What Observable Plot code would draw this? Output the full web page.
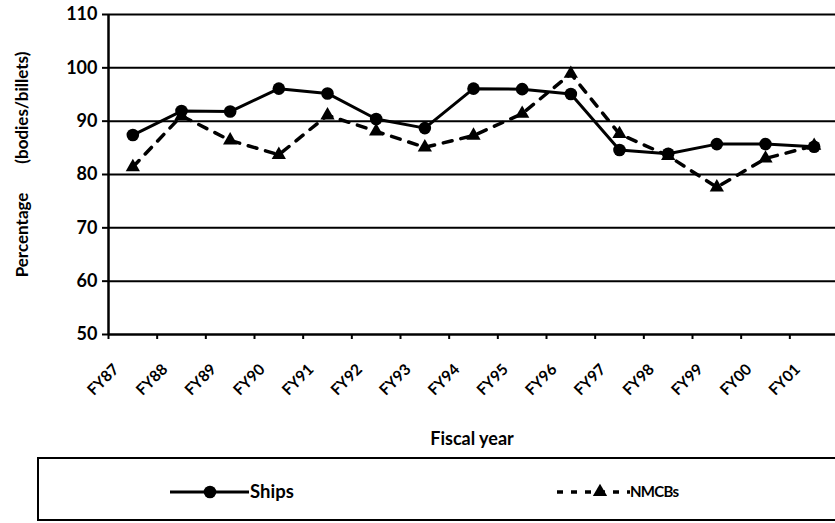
<!DOCTYPE html>
<html>
<head>
<meta charset="utf-8">
<script src="https://cdn.jsdelivr.net/npm/d3@7"></script>
<script src="https://cdn.jsdelivr.net/npm/@observablehq/plot@0.6"></script>
<style>
  html, body { margin: 0; padding: 0; background: #fff; }
  #wrap { position: relative; width: 835px; height: 523px; overflow: hidden; }
  #legend { position: absolute; left: 0; top: 456px; }
  svg { font-family: Lato, "Open Sans", sans-serif; }
</style>
</head>
<body>
<div id="wrap">
  <div id="chart"></div>
  <div id="legend"></div>
</div>
<script>
const years = ["FY87","FY88","FY89","FY90","FY91","FY92","FY93","FY94","FY95","FY96","FY97","FY98","FY99","FY00","FY01"];
const ships = [87.4, 91.9, 91.8, 96.1, 95.2, 90.4, 88.7, 96.1, 96.0, 95.1, 84.6, 83.9, 85.7, 85.7, 85.2];
const nmcbs = [81.4, 91.0, 86.4, 83.7, 91.1, 88.1, 85.1, 87.3, 91.4, 98.9, 87.6, 83.5, 77.6, 83.0, 85.4];
const yTicks = [50, 60, 70, 80, 90, 100, 110];
const seriesNames = ["Ships", "NMCBs"];
const yTitle = "Percentage\u00a0\u00a0\u00a0\u00a0\u00a0\u00a0\u00a0(bodies/billets)";
const xTitle = "Fiscal year";

const data = years.map((y, i) => ({year: y, idx: i + 0.5, ships: ships[i], nmcbs: nmcbs[i]}));
const boundaries = d3.range(0, years.length);
const centers = years.map((y, i) => i + 0.5);

const plot = Plot.plot({
  width: 835,
  height: 456,
  marginTop: 14,
  marginLeft: 108,
  marginRight: 0,
  marginBottom: 122,
  x: {domain: [0, years.length], range: [108, 838]},
  y: {domain: [50, 110]},
  style: {fontFamily: "Lato, 'Open Sans', sans-serif", overflow: "visible"},
  marks: [
    Plot.ruleY(yTicks.filter(d => d > 50), {stroke: "#000", strokeWidth: 2}),
    Plot.ruleY([50], {stroke: "#000", strokeWidth: 2.5}),
    Plot.ruleX([0], {y1: 50, y2: 110, stroke: "#000", strokeWidth: 2.5}),
    Plot.axisY({ticks: yTicks, tickSize: 6, tickPadding: 5, strokeWidth: 2, fontSize: 18, fontWeight: "bold", label: null, fill: "#000"}),
    Plot.axisX({ticks: boundaries, tickSize: 5, strokeWidth: 2, tickFormat: () => "", label: null}),
    Plot.axisX({ticks: centers, tickSize: 0, tickRotate: -45, tickFormat: d => years[Math.floor(d)], fontSize: 15.5, fontWeight: "bold", dx: -16.5, dy: 20.5, label: null, fill: "#000"}),
    Plot.line(data, {x: "idx", y: "nmcbs", stroke: "#000", strokeWidth: 3.5, strokeDasharray: "9,9"}),
    Plot.dot(data, {x: "idx", y: "nmcbs", symbol: "triangle", r: 5.3, fill: "#000", stroke: null}),
    Plot.line(data, {x: "idx", y: "ships", stroke: "#000", strokeWidth: 3}),
    Plot.dot(data, {x: "idx", y: "ships", symbol: "circle", r: 6.3, fill: "#000", stroke: null}),
    Plot.text([yTitle], {frameAnchor: "left", textAnchor: "middle", dx: -86, dy: -10, rotate: -90, fontSize: 17, fontWeight: "bold", fill: "#000"}),
    Plot.text([xTitle], {frameAnchor: "bottom", textAnchor: "middle", dy: 110, fontSize: 18, fontWeight: "bold", fill: "#000"})
  ]
});
document.getElementById("chart").appendChild(plot);

// Legend
const lg = d3.select("#legend").append("svg")
  .attr("width", 835).attr("height", 67)
  .style("display", "block")
  .style("font-family", "Lato, 'Open Sans', sans-serif");
lg.append("rect").attr("x", 38).attr("y", 2).attr("width", 820).attr("height", 62)
  .attr("fill", "none").attr("stroke", "#000").attr("stroke-width", 2);
const ly = 36;
lg.append("line").attr("x1", 170).attr("x2", 249).attr("y1", ly).attr("y2", ly)
  .attr("stroke", "#000").attr("stroke-width", 3);
lg.append("path").attr("d", d3.symbol(d3.symbolCircle, Math.PI * 6.3 * 6.3)())
  .attr("transform", `translate(210,${ly})`).attr("fill", "#000");
lg.append("text").attr("x", 250).attr("y", ly).attr("dy", "0.35em")
  .attr("font-size", 18.5).attr("font-weight", "bold").text(seriesNames[0]);
lg.append("line").attr("x1", 557).attr("x2", 630).attr("y1", ly).attr("y2", ly)
  .attr("stroke", "#000").attr("stroke-width", 3.5).attr("stroke-dasharray", "6,8");
lg.append("path").attr("d", d3.symbol(d3.symbolTriangle, Math.PI * 5.3 * 5.3)())
  .attr("transform", `translate(600,${ly})`).attr("fill", "#000");
lg.append("text").attr("x", 630).attr("y", ly).attr("dy", "0.35em")
  .attr("font-size", 15).attr("font-weight", "bold").attr("letter-spacing", "-0.7").text(seriesNames[1]);
</script>
</body>
</html>
